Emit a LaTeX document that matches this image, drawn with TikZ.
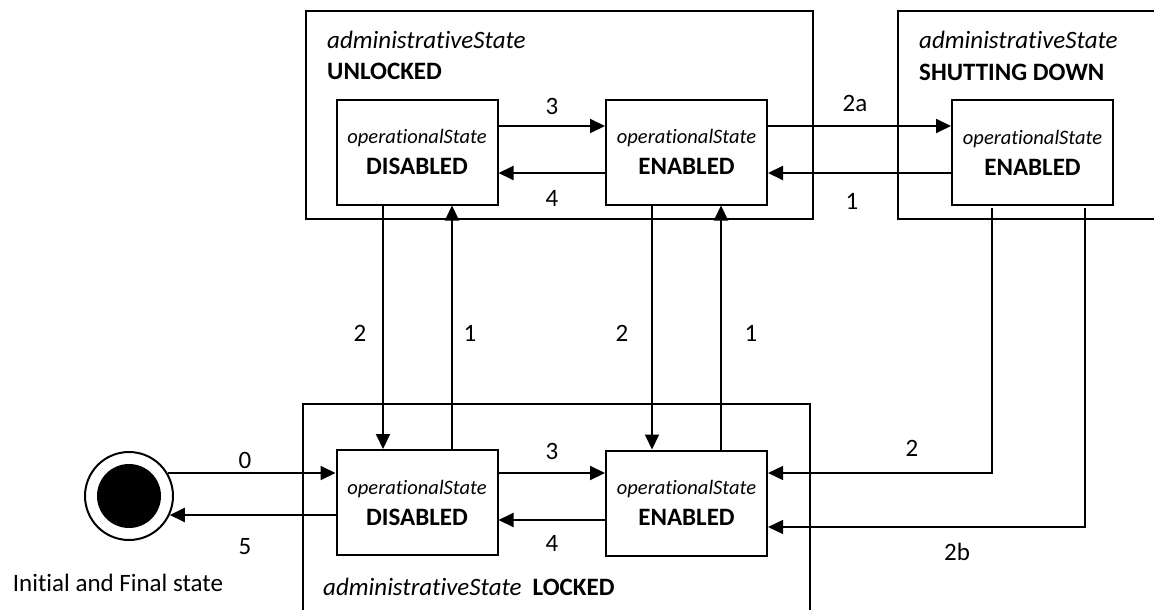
\documentclass[tikz,border=0pt]{standalone}
\usepackage{fontspec}
\setmainfont[Ligatures=NoCommon]{Carlito}
\usetikzlibrary{arrows.meta}
\newcommand\sttext[1]{{\fontsize{20.5}{31}\selectfont\itshape operationalState}\\{\bfseries #1}}
\begin{document}
\begin{tikzpicture}[x=1pt,y=-1pt,
  stbox/.style={draw, line width=2pt, minimum width=161pt, minimum height=105pt, inner sep=0pt, align=center, font=\fontsize{25}{31}\selectfont},
  arr/.style={line width=2pt, -{Triangle[length=15pt,width=14pt]}},
  thinarr/.style={line width=1.2pt, -{Triangle[length=15pt,width=14pt]}},
  frame/.style={draw, line width=2pt},
  lbl/.style={font=\fontsize{25}{30}\selectfont, inner sep=0pt},
]
\useasboundingbox (0,0) rectangle (1154,610);
\clip (0,0) rectangle (1154,610);

% composite state frames
\draw[frame] (306,11) rectangle (813,219);
\draw[frame] (898,11) rectangle (1180,219);
\draw[frame] (303,404) rectangle (810,640);

\node[lbl, anchor=west] (ulab1) at (327,40) {\itshape administrativeState};
\node[lbl, anchor=west] (ulab2) at (327,71) {\bfseries UNLOCKED};
\node[lbl, anchor=west] (slab1) at (919,40) {\itshape administrativeState};
\node[lbl, anchor=west] (slab2) at (919,72) {\bfseries SHUTTING DOWN};
\node[lbl, anchor=west] (llab) at (323,587) {\textit{administrativeState}\hspace{11pt}\textbf{LOCKED}};

% states
\node[stbox] (udis) at (417,152) {\sttext{DISABLED}};
\node[stbox] (uen) at (686.5,152) {\sttext{ENABLED}};
\node[stbox] (sden) at (1032.5,152.5) {\sttext{ENABLED}};
\node[stbox] (ldis) at (417,502.5) {\sttext{DISABLED}};
\node[stbox] (len) at (686.5,503) {\sttext{ENABLED}};

% initial / final state
\node[circle, draw, line width=2pt, minimum size=88pt, inner sep=0pt] (circ) at (129,496) {};
\node[circle, fill=black, minimum size=64pt, inner sep=0pt] (dot) at (circ.center) {};
\node[lbl] (init) at (118,583) {Initial and Final state};

% unlocked transitions
\draw[arr] (udis.east |- 0,126) -- (uen.west |- 0,126);
\draw[arr] (uen.west |- 0,173) -- (udis.east |- 0,173);
\draw[arr] (uen.east |- 0,126) -- (sden.west |- 0,126);
\draw[arr] (sden.west |- 0,173) -- (uen.east |- 0,173);

% vertical transitions
\draw[arr] (udis.south -| 383,0) -- (ldis.north -| 383,0);
\draw[arr] (ldis.north -| 452,0) -- (udis.south -| 452,0);
\draw[arr] (uen.south -| 652,0) -- (len.north -| 652,0);
\draw[arr] (len.north -| 721,0) -- (uen.south -| 721,0);

% locked transitions
\draw[arr] (ldis.east |- 0,473) -- (len.west |- 0,473);
\draw[arr] (len.west |- 0,520) -- (ldis.east |- 0,520);
\draw[arr] (circ.31 |- 0,473) -- (ldis.west |- 0,473);
\draw[arr] (ldis.west |- 0,515) -- (circ.-25 |- 0,515);

% shutting down to locked
\coordinate (t1) at (992,208);
\coordinate (t2) at (1085,208);
\draw[thinarr] (t1) |- (len.east |- 0,473);
\draw[thinarr] (t2) |- (len.east |- 0,527);

% labels
\node[lbl] (n3u) at (552,106) {3};
\node[lbl] (n4u) at (552,198) {4};
\node[lbl] (n2a) at (855,103) {2a};
\node[lbl] (n1u) at (852,201) {1};
\node[lbl] (n2l) at (360,333) {2};
\node[lbl] (n1l) at (470,333) {1};
\node[lbl] (n2r) at (622,333) {2};
\node[lbl] (n1r) at (751,333) {1};
\node[lbl] (n3l) at (552,451) {3};
\node[lbl] (n4l) at (552,543) {4};
\node[lbl] (n0) at (245,460) {0};
\node[lbl] (n5) at (245,547) {5};
\node[lbl] (n2s) at (912,448) {2};
\node[lbl] (n2b) at (957,552) {2b};
\end{tikzpicture}
\end{document}
